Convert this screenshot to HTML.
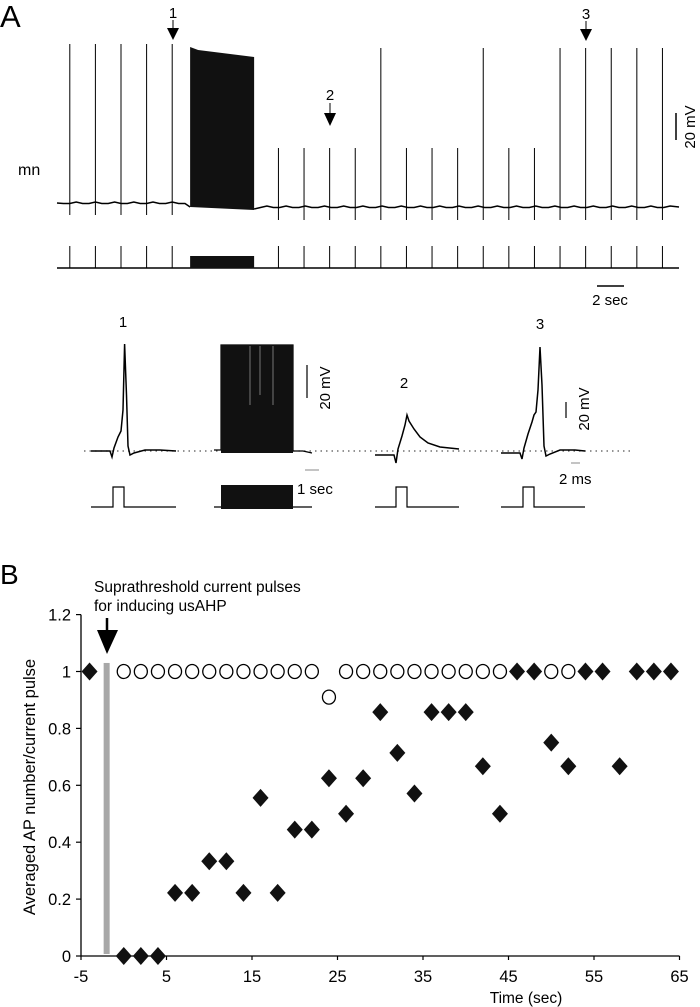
<!DOCTYPE html>
<html><head><meta charset="utf-8"><style>
html,body{margin:0;padding:0;background:#fff;}
svg{display:block;font-family:"Liberation Sans",Arial,sans-serif;}
</style></head><body>
<svg id="fig" width="700" height="1007" viewBox="0 0 700 1007">
<g id="panelA">
<text x="0" y="27" font-size="31">A</text>
<text x="18" y="175" font-size="16">mn</text>
<g id="topTrace"></g>
<g id="stimTrace"></g>
<g><text x="173" y="18" font-size="15" text-anchor="middle">1</text><line x1="173" y1="20" x2="173" y2="30" stroke="#000" stroke-width="1"/><polygon points="167,28 179,28 173,40" fill="#000"/></g>
<g><text x="330" y="100" font-size="15" text-anchor="middle">2</text><line x1="330" y1="103" x2="330" y2="114" stroke="#000" stroke-width="1"/><polygon points="324,113 336,113 330,126" fill="#000"/></g>
<g><text x="586" y="19" font-size="15" text-anchor="middle">3</text><line x1="586" y1="21" x2="586" y2="30" stroke="#000" stroke-width="1"/><polygon points="580,29 592,29 586,41" fill="#000"/></g>
<g><line x1="676" y1="113" x2="676" y2="140" stroke="#000" stroke-width="1.5"/><text transform="translate(695,127) rotate(-90)" font-size="15" text-anchor="middle">20 mV</text></g>
<g><line x1="597" y1="286" x2="624" y2="286" stroke="#000" stroke-width="1.5"/><text x="610" y="305" font-size="15" text-anchor="middle">2 sec</text></g>
</g>
<g id="insets">
<line x1="84" y1="451" x2="632" y2="451" stroke="#555" stroke-width="1.2" stroke-dasharray="1.5,4"/>
<text x="123" y="327" font-size="15" text-anchor="middle">1</text>
<path d="M91,451 L110,451 L112,457 L114,448 L118,437 L121,431 L123,410 L124.6,344 L126.5,395 L128,446 L130,455 L134,453 L145,450 L160,450 L176,451" fill="none" stroke="#000" stroke-width="1.5"/>
<path d="M214,450 L221,450 L221,345 L293,345 L293,451 L303,451 L312,453" fill="none" stroke="#000" stroke-width="1.2"/>
<rect x="221" y="345" width="72" height="108" fill="#111"/>
<g stroke="#bbb" stroke-width="0.6"><line x1="250" y1="346" x2="250" y2="405"/><line x1="260" y1="346" x2="260" y2="395"/><line x1="273" y1="346" x2="273" y2="405"/></g>
<g><line x1="307" y1="365" x2="307" y2="398" stroke="#000" stroke-width="1.2"/><text transform="translate(330,388) rotate(-90)" font-size="15" text-anchor="middle">20 mV</text></g>
<g><line x1="305" y1="470" x2="319" y2="470" stroke="#888" stroke-width="1"/><text x="297" y="494" font-size="15">1 sec</text></g>
<text x="404" y="388" font-size="15" text-anchor="middle">2</text>
<path d="M375,455 L394,455 L396,463 L398,449 L402,436 L405,425 L407,415 L409,421 L414,429 L420,437 L428,443 L440,447 L459,449" fill="none" stroke="#000" stroke-width="1.5"/>
<text x="540" y="329" font-size="15" text-anchor="middle">3</text>
<path d="M501,453 L520,453 L522,459 L524,448 L528,434 L532,422 L534,415 L536,412 L538,390 L540,347 L542,385 L544,446 L546,456 L550,454 L560,450 L575,450 L585,451" fill="none" stroke="#000" stroke-width="1.5"/>
<g><line x1="566" y1="402" x2="566" y2="418" stroke="#000" stroke-width="1.2"/><text transform="translate(589,409) rotate(-90)" font-size="15" text-anchor="middle">20 mV</text></g>
<g><line x1="571" y1="463" x2="580" y2="463" stroke="#888" stroke-width="1"/><text x="559" y="484" font-size="15">2 ms</text></g>
<g fill="none" stroke="#000" stroke-width="1.2">
<path d="M91,507 L113,507 L113,487 L124,487 L124,507 L176,507"/>
<path d="M214,507 L221,507 M293,507 L312,507"/>
<path d="M375,507 L396,507 L396,487 L407,487 L407,507 L459,507"/>
<path d="M501,507 L523,507 L523,487 L534,487 L534,507 L585,507"/>
</g>
<rect x="221" y="485" width="72" height="24" fill="#111"/>
</g>
<g id="panelB">
<text x="0" y="584" font-size="28">B</text>
<text x="94" y="592" font-size="15.5">Suprathreshold current pulses</text>
<text x="94" y="611" font-size="15.5">for inducing usAHP</text>
<g><line x1="107" y1="618" x2="107" y2="634" stroke="#000" stroke-width="2.5"/><polygon points="97,630 118,630 107,654" fill="#000"/></g>
<text transform="translate(35,787) rotate(-90)" font-size="16.5" text-anchor="middle">Averaged AP number/current pulse</text>
<text x="526" y="1003" font-size="15.5" text-anchor="middle">Time (sec)</text>
<g id="axes"></g>
<g id="marks"></g>
</g>
</svg>
<script>
// ---- Panel A data ----
const preSpikeTimes = [1, 3, 5, 7, 9];
const postSpikeTimes = [17.3, 19.3, 21.3, 23.3, 25.3, 27.3, 29.3, 31.3, 33.3, 35.3, 37.3, 39.3, 41.3, 43.3, 45.3, 47.3];
const postSpikeFull = [0, 0, 0, 0, 1, 0, 0, 0, 1, 0, 0, 1, 1, 1, 1, 1];
const burstWindow = [10.4, 15.4];
// ---- Panel B data ----
const circleTimes = [0, 2, 4, 6, 8, 10, 12, 14, 16, 18, 20, 22, 24, 26, 28, 30, 32, 34, 36, 38, 40, 42, 44, 50, 52];
const circleValues = [1, 1, 1, 1, 1, 1, 1, 1, 1, 1, 1, 1, 0.91, 1, 1, 1, 1, 1, 1, 1, 1, 1, 1, 1, 1];
const diamondTimes = [-4, 0, 2, 4, 6, 8, 10, 12, 14, 16, 18, 20, 22, 24, 26, 28, 30, 32, 34, 36, 38, 40, 42, 44, 46, 48, 50, 52, 54, 56, 58, 60, 62, 64];
const diamondValues = [1, 0, 0, 0, 0.222, 0.222, 0.333, 0.333, 0.222, 0.556, 0.222, 0.444, 0.444, 0.625, 0.5, 0.625, 0.857, 0.714, 0.571, 0.857, 0.857, 0.857, 0.667, 0.5, 1, 1, 0.75, 0.667, 1, 1, 0.667, 1, 1, 1];
const xTicks = [-5, 5, 15, 25, 35, 45, 55, 65];
const yTicks = [0, 0.2, 0.4, 0.6, 0.8, 1, 1.2];
const yTickLabels = ["0", "0.2", "0.4", "0.6", "0.8", "1", "1.2"];
const stimBarTime = -2;

const NS = "http://www.w3.org/2000/svg";
function mk(tag, attrs, parent) { const e = document.createElementNS(NS, tag); for (const k in attrs) e.setAttribute(k, attrs[k]); parent.appendChild(e); return e; }

// Panel A
const tx = t => 57 + t * 12.8;
const traceG = document.getElementById('topTrace');
const stimG = document.getElementById('stimTrace');
let d = "M57,203";
for (let t = 0.5; t < burstWindow[0]; t += 0.5) { d += ` L${tx(t).toFixed(1)},${(203 + (Math.round(t*2)%3===0?-1:0.5)).toFixed(1)}`; }
d += ` L${tx(burstWindow[0])},207`;
let d2 = `M${tx(burstWindow[1])},209`;
for (let t = burstWindow[1] + 0.5; t <= 48; t += 0.5) { d2 += ` L${tx(t).toFixed(1)},${(207 + (Math.round(t*2)%3===0?-1:0.5)).toFixed(1)}`; }
d2 += " L679,207";
let p = mk('path', {d: d + " " + d2, fill: 'none', stroke: '#000', 'stroke-width': 1.5}, traceG);


preSpikeTimes.forEach(t => {
  const l = mk('line', {x1: tx(t), x2: tx(t), y1: 44, y2: 215, stroke: '#000', 'stroke-width': 1}, traceG);
  
  
});
postSpikeTimes.forEach((t, i) => {
  const l = mk('line', {x1: tx(t), x2: tx(t), y1: postSpikeFull[i] ? 48 : 148, y2: 220, stroke: '#000', 'stroke-width': 1}, traceG);
  
  
});
const bx0 = tx(burstWindow[0]), bx1 = tx(burstWindow[1]);
let burst = mk('polygon', {points: `${bx0},47 ${bx0+8},50 ${(bx0+bx1)/2},53 ${bx1},57 ${bx1},210 ${bx0},207`, fill: '#111'}, traceG);


let sl = mk('line', {x1: 57, x2: 679, y1: 268, y2: 268, stroke: '#000', 'stroke-width': 1.5}, stimG);


preSpikeTimes.concat(postSpikeTimes).forEach(t => {
  const l = mk('line', {x1: tx(t), x2: tx(t), y1: 246, y2: 268, stroke: '#000', 'stroke-width': 1}, stimG);
  
  
});
let sr = mk('rect', {x: bx0, y: 256, width: bx1 - bx0, height: 12.5, fill: '#111'}, stimG);



// Panel B
const X = v => 81 + (v + 5) * 8.55;
const Y = v => 956 - v * 284.5;
const ax = document.getElementById('axes');
const mg = document.getElementById('marks');
let a = mk('path', {d: `M${X(-5)},${Y(1.2)} L${X(-5)},${Y(0)} L${X(65)},${Y(0)}`, fill: 'none', stroke: '#000', 'stroke-width': 1.3}, ax);


xTicks.forEach(v => {
  mk('line', {x1: X(v), x2: X(v), y1: Y(0), y2: Y(0) + 4, stroke: '#000', 'stroke-width': 1.2}, ax);
  const t = mk('text', {x: X(v), y: 982, 'font-size': 16.5, 'text-anchor': 'middle'}, ax);
  t.textContent = String(v);
  
  
});
yTicks.forEach((v, i) => {
  mk('line', {x1: X(-5) - 5, x2: X(-5), y1: Y(v), y2: Y(v), stroke: '#000', 'stroke-width': 1.2}, ax);
  const t = mk('text', {x: 71, y: Y(v) + 6, 'font-size': 16.5, 'text-anchor': 'end'}, ax);
  t.textContent = yTickLabels[i];
  
  
});
let sb = mk('rect', {x: X(stimBarTime) - 3, y: Y(1.03), width: 6, height: Y(0) - Y(1.03) - 2, fill: '#a8a8a8'}, mg);


circleTimes.forEach((t, i) => {
  const c = mk('ellipse', {cx: X(t), cy: Y(circleValues[i]), rx: 6.5, ry: 7, fill: '#fff', stroke: '#000', 'stroke-width': 1.3}, mg);
  
  
});
diamondTimes.forEach((t, i) => {
  const x = X(t), y = Y(diamondValues[i]);
  const dm = mk('polygon', {points: `${x},${y-9} ${x+8},${y} ${x},${y+9} ${x-8},${y}`, fill: '#111'}, mg);
  
  
});
</script>
</body></html>
